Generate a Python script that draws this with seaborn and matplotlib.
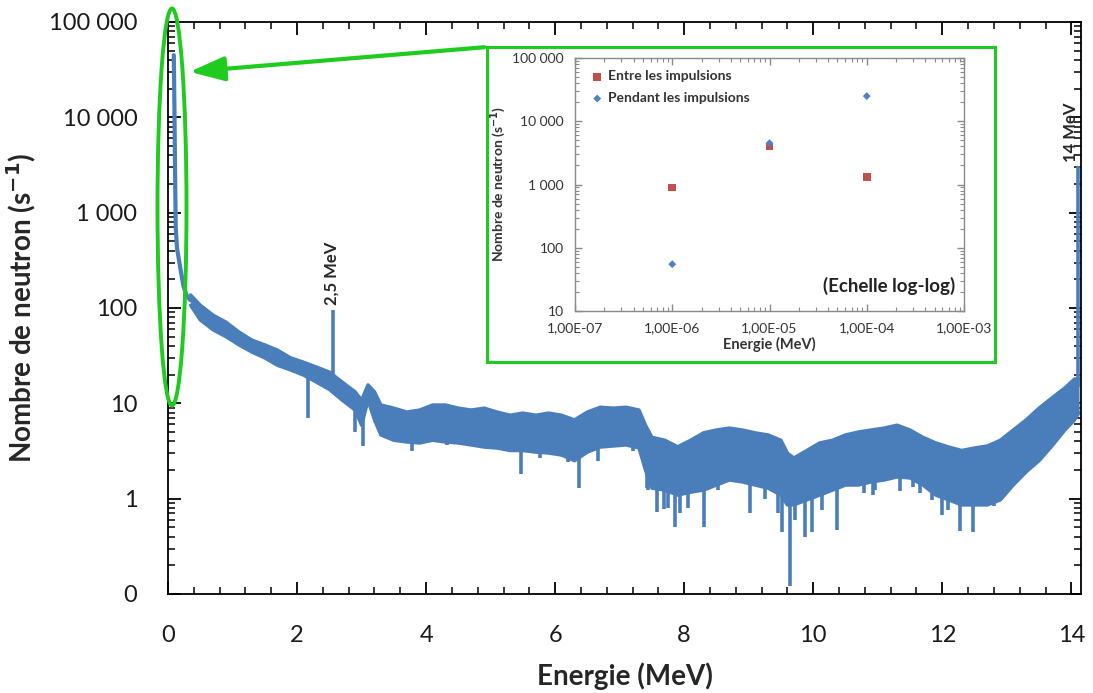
import numpy as np
import pandas as pd
import matplotlib
matplotlib.use("Agg")
import matplotlib.pyplot as plt
import seaborn as sns
from matplotlib import ticker
from matplotlib.patches import Ellipse, Rectangle, FancyArrowPatch

# ---------------- data ----------------
# low-energy peak (thermal neutrons)
energie_pic = [0.09, 0.10, 0.11, 0.12, 0.14, 0.17, 0.20, 0.24, 0.29, 0.35]
comptage_pic = [45000, 12000, 2500, 700, 420, 320, 240, 170, 135, 120]

# noisy band: upper / lower envelope of the spectrum
energie_bande = [0.35, 0.5, 0.7, 0.9, 1.1, 1.3, 1.5, 1.7, 1.9, 2.1, 2.3, 2.5, 2.7, 2.9,
                 3.0, 3.1, 3.2, 3.3, 3.5, 3.7, 3.9, 4.1, 4.3, 4.5, 4.7, 4.9, 5.1, 5.3,
                 5.5, 5.7, 5.9, 6.1, 6.3, 6.5, 6.7, 6.9, 7.1, 7.3, 7.4, 7.5, 7.7, 7.9,
                 8.1, 8.3, 8.5, 8.7, 8.9, 9.1, 9.3, 9.5, 9.6, 9.7, 9.9, 10.1, 10.3,
                 10.5, 10.7, 10.9, 11.1, 11.3, 11.5, 11.7, 11.9, 12.1, 12.3, 12.5,
                 12.7, 12.9, 13.1, 13.3, 13.5, 13.7, 13.9, 14.05, 14.12]
bande_haut = [137, 107, 84, 71, 56, 46, 41, 36, 30, 27, 24, 21.3, 16.7, 13.2,
              10.8, 15.6, 13.2, 9.6, 8.9, 8.1, 8.5, 9.6, 9.6, 8.9, 8.5, 8.9, 8.1, 7.5,
              7.9, 7.5, 7.9, 7.5, 6.7, 8.1, 9.1, 8.9, 9.1, 8.5, 5.9, 4.4, 4.1, 3.5,
              4.1, 4.9, 5.25, 5.5, 5.25, 4.9, 4.66, 4.1, 3.0, 2.67, 3.2, 3.84, 4.1,
              4.66, 5.0, 5.25, 5.5, 5.9, 5.25, 4.4, 3.84, 3.48, 3.2, 3.4,
              3.57, 4.1, 5.25, 6.7, 8.9, 11.4, 14.5, 18, 18]
bande_bas = [107, 75, 59, 50, 41, 34.5, 30, 25, 22.4, 19.8, 16.7, 14, 10.8, 8.5,
             5.9, 10.8, 6.7, 4.66, 4.1, 3.93, 3.84, 4.1, 3.93, 3.84, 3.66, 3.48, 3.4, 3.2,
             3.2, 3.08, 3.01, 2.87, 2.5, 3.08, 3.48, 3.57, 3.66, 3.4, 2.0, 1.29, 1.23, 1.09,
             1.17, 1.23, 1.39, 1.57, 1.5, 1.39, 1.29, 1.09, 0.86, 0.86, 0.97, 1.09, 1.23,
             1.39, 1.39, 1.5, 1.57, 1.69, 1.65, 1.39, 1.09, 0.97, 0.86, 0.86,
             0.86, 0.97, 1.39, 1.91, 2.5, 3.57, 5.25, 6.7, 8.0]

# narrow spikes (down and up): energy, start (inside band), end
energie_raies = [2.17, 2.9, 3.02, 3.78, 4.17, 4.33, 5.04, 5.47, 5.77, 6.2, 6.37, 6.67,
                 7.2, 7.42, 7.44, 7.58, 7.68, 7.75, 7.86, 7.94, 8.06, 8.3, 8.53, 9.02,
                 9.26, 9.46, 9.52, 9.64, 9.72, 9.88, 9.98, 10.14, 10.37, 10.78, 10.93,
                 10.96, 11.07, 11.35, 11.55, 11.66, 11.84, 12.0, 12.09, 12.28, 12.47,
                 12.64, 12.8, 2.55, 14.1]
raies_depart = [20, 9, 8, 5, 5, 5, 5, 4, 4, 4, 3.5, 4,
                5, 4, 3, 2, 2, 2, 2, 2, 2, 2, 2, 2,
                2, 2, 2, 1.5, 1.5, 1.5, 1.5, 2, 2, 2, 2,
                2, 2.5, 2.5, 2.5, 2.5, 2, 1.5, 1.5, 1.5, 1.5,
                1.5, 1.5, 18, 15]
raies_fin = [7.0, 5.0, 3.6, 3.2, 4.3, 3.66, 3.4, 1.8, 2.7, 2.4, 1.3, 2.5,
             3.2, 1.3, 1.23, 0.72, 0.78, 0.8, 0.5, 0.7, 0.8, 0.5, 1.23, 0.7,
             1.0, 0.7, 0.45, 0.12, 0.6, 0.4, 0.45, 0.76, 0.47, 1.15, 1.1,
             1.23, 1.57, 1.2, 1.34, 1.15, 0.97, 0.67, 0.76, 0.46, 0.45,
             0.86, 0.83, 95, 3100]

# main axis ticks
y_ticks = [0.1, 1, 10, 100, 1000, 10000, 100000]
y_labels = ["0", "1", "10", "100", "1 000", "10 000", "100 000"]
x_ticks = [0, 2, 4, 6, 8, 10, 12, 14]

# inset data
inset_energie = [1e-6, 1e-5, 1e-4]
entre_impulsions = [900, 4000, 1300]
pendant_impulsions = [55, 4500, 25000]
inset_x_ticks = [1e-7, 1e-6, 1e-5, 1e-4, 1e-3]
inset_x_labels = ["1,00E-07", "1,00E-06", "1,00E-05", "1,00E-04", "1,00E-03"]
inset_y_ticks = [10, 100, 1000, 10000, 100000]
inset_y_labels = ["10", "100", "1 000", "10 000", "100 000"]

# ---------------- styling ----------------
sns.set_theme(style="ticks")
plt.rcParams['font.family'] = ['Lato', 'DejaVu Sans']

BLUE = "#4A7EBB"
GREEN = "#1ECB1E"
W, H = 1093, 693

fig = plt.figure(figsize=(W / 100, H / 100), dpi=100)
fig.patch.set_facecolor("white")

def fx(px):
    return px / W

def fy(py):
    return 1 - py / H

ax = fig.add_axes([fx(168), fy(594), fx(1081) - fx(168), fy(22) - fy(594)])

# band
ax.fill_between(energie_bande, bande_bas, bande_haut, color=BLUE, lw=0)
sns.lineplot(x=energie_bande, y=bande_haut, ax=ax, color=BLUE, lw=2.5, sort=False)
sns.lineplot(x=energie_bande, y=bande_bas, ax=ax, color=BLUE, lw=2.5, sort=False)
# low-energy peak
sns.lineplot(x=energie_pic, y=comptage_pic, ax=ax, color=BLUE, lw=3, sort=False)
# spikes
ax.vlines(energie_raies, raies_depart, raies_fin, color=BLUE, lw=2.6)

ax.set_yscale("log")
ax.set_xlim(0, 14.15)
ax.set_ylim(0.1, 100000)
ax.yaxis.set_major_locator(ticker.FixedLocator(y_ticks))
ax.yaxis.set_major_formatter(ticker.FixedFormatter(y_labels))
ax.yaxis.set_minor_locator(ticker.LogLocator(base=10, subs=np.arange(2, 10)))
ax.yaxis.set_minor_formatter(ticker.NullFormatter())
ax.xaxis.set_major_locator(ticker.FixedLocator(x_ticks))
ax.xaxis.set_minor_locator(ticker.MultipleLocator(0.4))

for s in ax.spines.values():
    s.set_visible(True)
    s.set_color("black")
    s.set_linewidth(1.3)
ax.tick_params(which="both", direction="in", top=True, right=True, color="black")
ax.tick_params(which="major", length=9, width=1.3)
ax.tick_params(which="minor", length=5, width=1.1)
ax.tick_params(axis="y", which="major", pad=22, labelsize=17, labelcolor="#1a1a1a")
ax.tick_params(axis="x", which="major", pad=22, labelsize=17, labelcolor="#1a1a1a")

ax.set_xlabel("Energie (MeV)", fontsize=20, fontweight="bold", labelpad=12)
ax.set_ylabel("Nombre de neutron (s$^{\\mathbf{-1}}$)", fontsize=20, fontweight="bold")
ax.yaxis.set_label_coords(-0.142, 0.5)

ax.text(2.54, 108, "2,5 MeV", rotation=90, ha="center", va="bottom",
        fontsize=12, fontweight="bold")
ax.text(13.99, 3400, "14 MeV", rotation=90, ha="center", va="bottom",
        fontsize=12, fontweight="bold")

# ---------------- green highlight ----------------
fig.add_artist(Ellipse((fx(172), fy(207)), fx(29), 397 / H, transform=fig.transFigure,
                       fill=False, ec=GREEN, lw=2.8, zorder=10))
fig.add_artist(Rectangle((fx(487), fy(362)), fx(995) - fx(487), fy(47) - fy(362),
                         transform=fig.transFigure, fill=False, ec=GREEN, lw=2.2, zorder=10))
fig.add_artist(FancyArrowPatch((fx(487), fy(47)), (fx(187), fy(72)), transform=fig.transFigure,
                               arrowstyle="-|>,head_length=0.85,head_width=0.3",
                               mutation_scale=25, color=GREEN, lw=3, zorder=10))

# ---------------- inset ----------------
GRAY = "#8a8a8a"
axi = fig.add_axes([fx(575), fy(311), fx(964) - fx(575), fy(58) - fy(311)], zorder=5)
axi.set_facecolor("white")
sns.scatterplot(x=inset_energie, y=entre_impulsions, ax=axi, marker="s", s=30,
                color="#C0504D", edgecolor="none", label="Entre les impulsions")
sns.scatterplot(x=inset_energie, y=pendant_impulsions, ax=axi, marker="D", s=16,
                color="#4F81BD", edgecolor="none", label="Pendant les impulsions")
axi.set_xscale("log")
axi.set_yscale("log")
axi.set_xlim(1e-7, 1e-3)
axi.set_ylim(10, 100000)
axi.xaxis.set_major_locator(ticker.FixedLocator(inset_x_ticks))
axi.xaxis.set_major_formatter(ticker.FixedFormatter(inset_x_labels))
axi.yaxis.set_major_locator(ticker.FixedLocator(inset_y_ticks))
axi.yaxis.set_major_formatter(ticker.FixedFormatter(inset_y_labels))
for a in (axi.xaxis, axi.yaxis):
    a.set_minor_locator(ticker.LogLocator(base=10, subs=np.arange(2, 10)))
    a.set_minor_formatter(ticker.NullFormatter())
for s in axi.spines.values():
    s.set_visible(True)
    s.set_color(GRAY)
    s.set_linewidth(1.0)
axi.tick_params(which="both", direction="in", top=True, right=True, color=GRAY)
axi.tick_params(which="major", length=5, width=1)
axi.tick_params(which="minor", length=3, width=0.8)
axi.tick_params(which="major", labelsize=10, labelcolor="#333333", pad=8)
axi.set_xlabel("Energie (MeV)", fontsize=10.5, fontweight="bold", color="#333333", labelpad=2)
axi.set_ylabel("Nombre de neutron (s$^{\\mathbf{-1}}$)", fontsize=10, fontweight="bold",
               color="#333333", labelpad=3)
leg = axi.legend(loc="upper left", frameon=False, fontsize=10, handletextpad=0.1,
                 borderaxespad=0.5, labelspacing=0.7, handlelength=1.4)
for t in leg.get_texts():
    t.set_color("#333333")
    t.set_fontweight("bold")
axi.text(0.978, 0.1, "(Echelle log-log)", transform=axi.transAxes, ha="right", va="center",
         fontsize=13.5, fontweight="bold", color="#222222")

fig.savefig("out.png", dpi=100, facecolor="white")
